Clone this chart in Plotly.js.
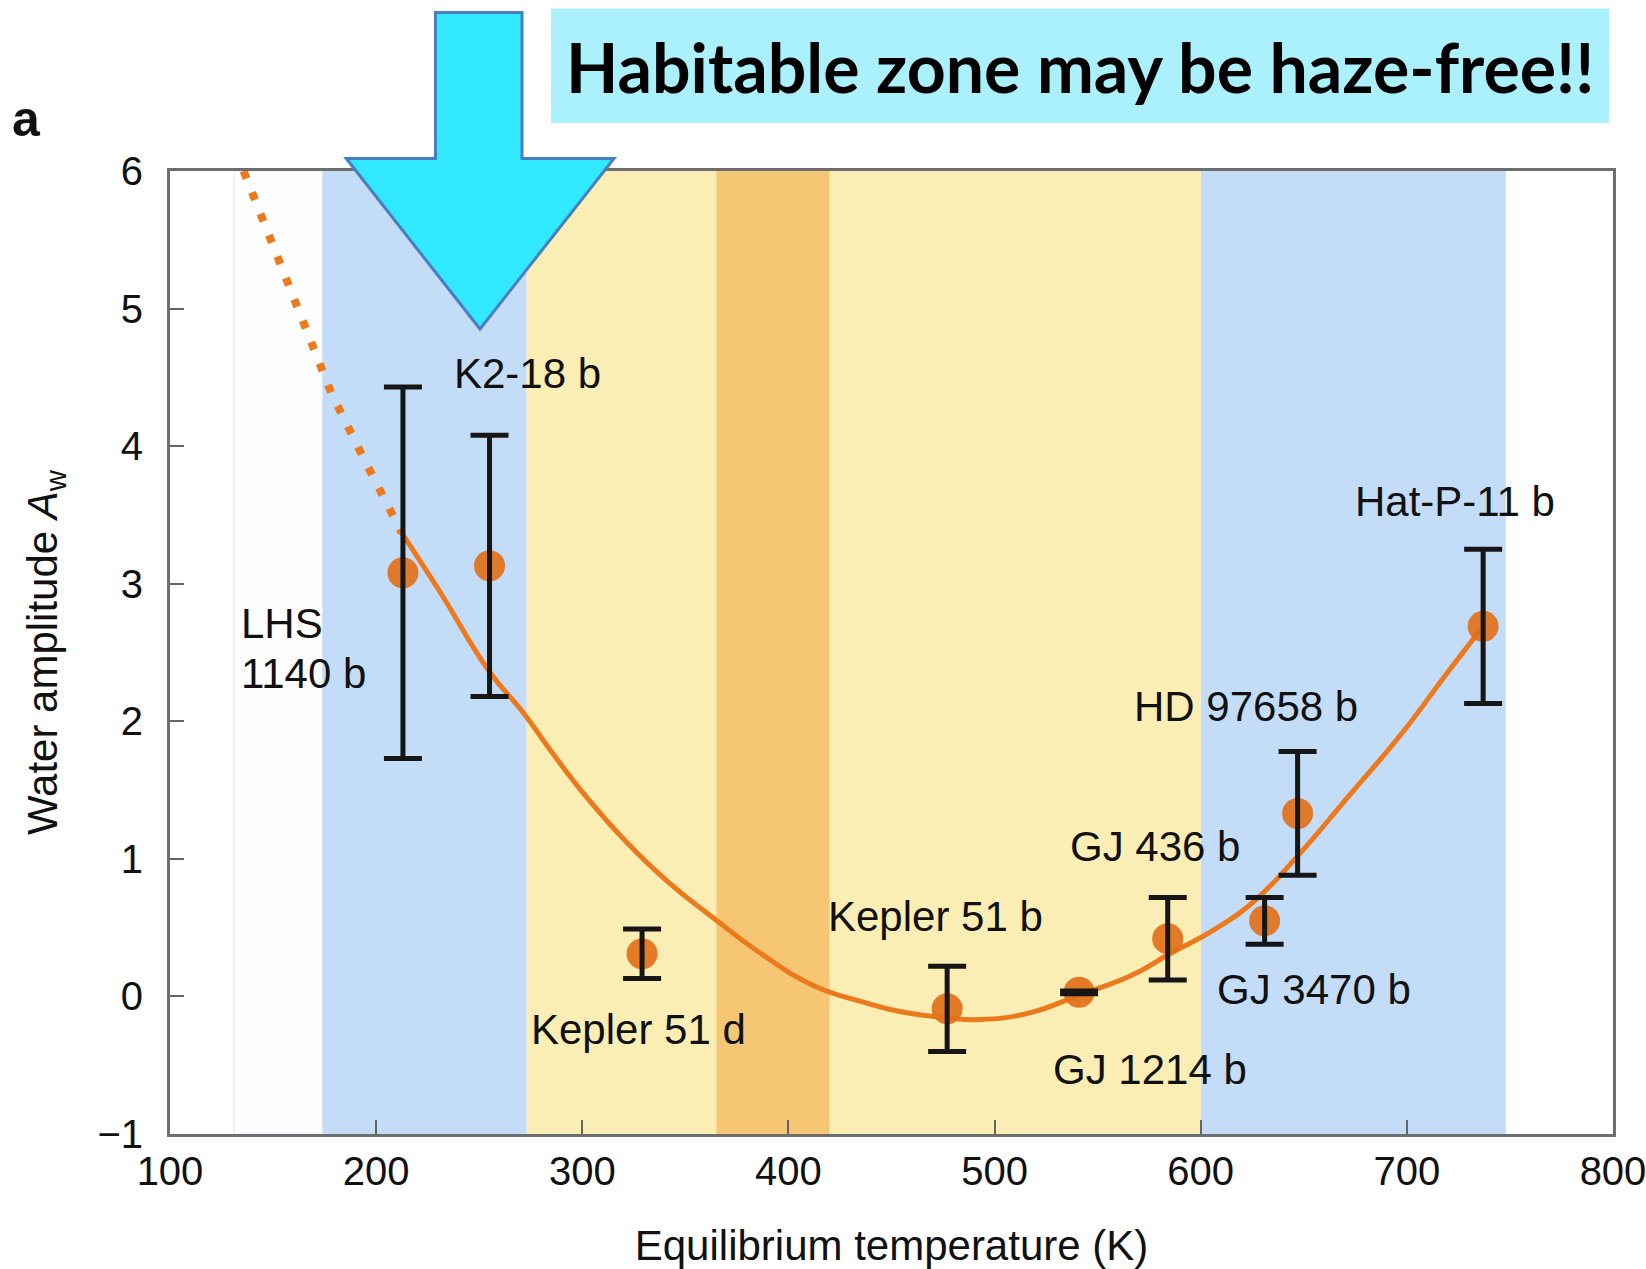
<!DOCTYPE html>
<html>
<head>
<meta charset="utf-8">
<script src="https://cdn.plot.ly/plotly-3.0.1.min.js"></script>
<style>
  html, body { margin: 0; padding: 0; background: #ffffff; }
  #chart { width: 1646px; height: 1269px; }
</style>
</head>
<body>
<div id="chart"></div>
<script>
// Planets: equilibrium temperature (K), water amplitude A_w and its 1-sigma error
const planetNames = ['LHS 1140 b', 'K2-18 b', 'Kepler 51 d', 'Kepler 51 b', 'GJ 1214 b',
                     'GJ 436 b', 'GJ 3470 b', 'HD 97658 b', 'Hat-P-11 b'];
const planetTemps = [213, 255, 329, 477, 541, 584, 631, 647, 737];
const planetAmps  = [3.08, 3.13, 0.31, -0.09, 0.03, 0.42, 0.55, 1.33, 2.69];
const planetErrs  = [1.35, 0.95, 0.18, 0.31, 0.01, 0.30, 0.17, 0.45, 0.56];

// Fitted trend: extrapolated (dotted) part and fitted (solid) part
const extrapTemps = [135.7, 139.6, 152.5, 165.5, 178.4, 193.0, 208.3, 212.4];
const extrapAmps  = [6.00, 5.85, 5.35, 4.86, 4.38, 3.94, 3.48, 3.37];
const fitTemps = [212.4, 231, 255, 271, 286, 302, 321.5, 341, 363.6, 387.8, 412, 436,
                  454, 477, 493, 517, 541, 566, 585, 606, 625, 647, 672, 698, 718, 737];
const fitAmps  = [3.37, 2.94, 2.36, 2.07, 1.76, 1.45, 1.12, 0.84, 0.57, 0.30, 0.08, -0.04,
                  -0.11, -0.156, -0.168, -0.12, 0.01, 0.15, 0.31, 0.48, 0.68, 1.02, 1.46, 1.92, 2.32, 2.69];

// Temperature bands (K)
const coldEdge   = [131, 174];
const blueBands  = [[174, 273], [600, 748]];
const yellowBands = [[273, 365], [420, 600]];
const orangeBand = [365, 420];

const xTicks = [100, 200, 300, 400, 500, 600, 700, 800];
const yTicks = [-1, 0, 1, 2, 3, 4, 5, 6];

const headline = 'Habitable zone may be haze-free!!';
const panelTag = 'a';

// Where each planet label sits (data coordinates); a label may be split over lines
const labelPlace = {
  'LHS 1140 b': {lines: [{text: 'LHS', x: 133.5, y: 2.71}, {text: '1140 b', x: 133.5, y: 2.35}], xanchor: 'left'},
  'K2-18 b':    {x: 273.2, y: 4.53},
  'Kepler 51 d':{x: 327.4, y: -0.24},
  'Kepler 51 b':{x: 471.3, y: 0.58},
  'GJ 1214 b':  {x: 575.6, y: -0.53},
  'GJ 436 b':   {x: 577.9, y: 1.09},
  'GJ 3470 b':  {x: 654.8, y: 0.05},
  'HD 97658 b': {x: 622.0, y: 2.11},
  'Hat-P-11 b': {x: 723.3, y: 3.60}
};

const FONT = '"Liberation Sans", Arial, Helvetica, sans-serif';
const orange = '#ec7a1d';

const traces = [
  {
    x: extrapTemps, y: extrapAmps, type: 'scatter', mode: 'lines',
    line: {color: orange, width: 8, dash: '8px,15px'},
    hoverinfo: 'skip'
  },
  {
    x: fitTemps, y: fitAmps, type: 'scatter', mode: 'lines',
    line: {color: orange, width: 5, shape: 'spline', smoothing: 1.3},
    hoverinfo: 'skip'
  },
  {
    x: planetTemps, y: planetAmps, type: 'scatter', mode: 'markers',
    text: planetNames,
    marker: {color: '#e2701a', size: 31, opacity: 0.92, line: {width: 0}}
  },
  {
    x: planetTemps, y: planetAmps, type: 'scatter', mode: 'markers',
    marker: {size: 2, opacity: 0},
    error_y: {type: 'data', array: planetErrs, visible: true,
              color: '#161616', thickness: 5, width: 19},
    hoverinfo: 'skip'
  }
];

const shapes = [];
shapes.push({type: 'rect', xref: 'x', yref: 'paper', x0: coldEdge[0], x1: coldEdge[1], y0: 0, y1: 1,
             fillcolor: '#fefeff', line: {color: '#eef2fa', width: 2}, layer: 'below'});
blueBands.forEach(b => shapes.push({type: 'rect', xref: 'x', yref: 'paper', x0: b[0], x1: b[1],
             y0: 0, y1: 1, fillcolor: '#c3dcf8', line: {width: 0}, layer: 'below'}));
yellowBands.forEach(b => shapes.push({type: 'rect', xref: 'x', yref: 'paper', x0: b[0], x1: b[1],
             y0: 0, y1: 1, fillcolor: '#faeeb5', line: {width: 0}, layer: 'below'}));
shapes.push({type: 'rect', xref: 'x', yref: 'paper', x0: orangeBand[0], x1: orangeBand[1], y0: 0, y1: 1,
             fillcolor: '#f5c674', line: {width: 0}, layer: 'below'});

// Headline banner and the pointer arrow (paper units, plot area 1443 x 963 px)
const PW = 1443, PH = 963, PL = 170, PB = 1134;
const px = v => ((v - PL) / PW).toFixed(5);
const py = v => ((PB - v) / PH).toFixed(5);
shapes.push({type: 'rect', xref: 'paper', yref: 'paper', x0: +px(551), x1: +px(1609), y0: +py(123), y1: +py(8.4),
             fillcolor: '#aaf1fd', line: {width: 0}, layer: 'above'});
shapes.push({type: 'path', xref: 'paper', yref: 'paper', layer: 'above',
             path: `M ${px(435.5)} ${py(12.6)} L ${px(522)} ${py(12.6)} L ${px(522)} ${py(158.5)} ` +
                   `L ${px(614)} ${py(158.5)} L ${px(480)} ${py(329)} L ${px(346.2)} ${py(158.5)} ` +
                   `L ${px(435.5)} ${py(158.5)} Z`,
             fillcolor: '#30e9fe', line: {color: '#4a7fbf', width: 3}});

const labelFont = {family: FONT, size: 42, color: '#111111'};
const annotations = [];
planetNames.forEach(n => {
  const p = labelPlace[n];
  const parts = p.lines || [{text: n, x: p.x, y: p.y}];
  parts.forEach(q => annotations.push({
    x: q.x, y: q.y, xref: 'x', yref: 'y', text: q.text, showarrow: false,
    xanchor: p.xanchor || 'center', yanchor: 'middle', font: labelFont
  }));
});
annotations.push({x: +px(1080), y: +py(67), xref: 'paper', yref: 'paper', text: '<b>' + headline + '</b>',
                  showarrow: false, xanchor: 'center', yanchor: 'middle',
                  font: {family: 'Lato, "Open Sans", sans-serif', size: 68, color: '#000000'}});
annotations.push({x: +px(27), y: +py(119), xref: 'paper', yref: 'paper', text: '<b>' + panelTag + '</b>',
                  showarrow: false, xanchor: 'center', yanchor: 'middle',
                  font: {family: FONT, size: 50, color: '#111111'}});

const layout = {
  width: 1646, height: 1269,
  margin: {l: 170, r: 33, t: 171, b: 135, pad: 0},
  paper_bgcolor: '#ffffff', plot_bgcolor: '#ffffff',
  showlegend: false,
  font: {family: FONT, color: '#111111'},
  xaxis: {
    range: [100, 800], tickvals: xTicks, ticktext: xTicks.map(String),
    ticks: 'inside', ticklen: 14, tickwidth: 2, tickcolor: '#666666',
    showline: true, linecolor: '#6e6e6e', linewidth: 3, mirror: true,
    showgrid: false, zeroline: false, ticklabeloverflow: 'allow',
    tickfont: {family: FONT, size: 40, color: '#111111'}, ticklabelstandoff: 0,
    title: {text: 'Equilibrium temperature (K)', font: {family: FONT, size: 42, color: '#111111'}, standoff: 47}
  },
  yaxis: {
    range: [-1, 6], tickvals: yTicks, ticktext: yTicks.map(v => v < 0 ? '\u2212' + Math.abs(v) : String(v)),
    ticks: 'inside', ticklen: 14, tickwidth: 2, tickcolor: '#666666',
    showline: true, linecolor: '#6e6e6e', linewidth: 3, mirror: true,
    showgrid: false, zeroline: false, ticklabeloverflow: 'allow',
    tickfont: {family: FONT, size: 40, color: '#111111'}, ticklabelstandoff: 16,
    title: {text: 'Water amplitude <i>A</i><sub>w</sub>', font: {family: FONT, size: 42, color: '#111111'}, standoff: 27}
  },
  shapes: shapes,
  annotations: annotations
};

Plotly.newPlot('chart', traces, layout, {displayModeBar: false, staticPlot: true});
</script>
</body>
</html>
